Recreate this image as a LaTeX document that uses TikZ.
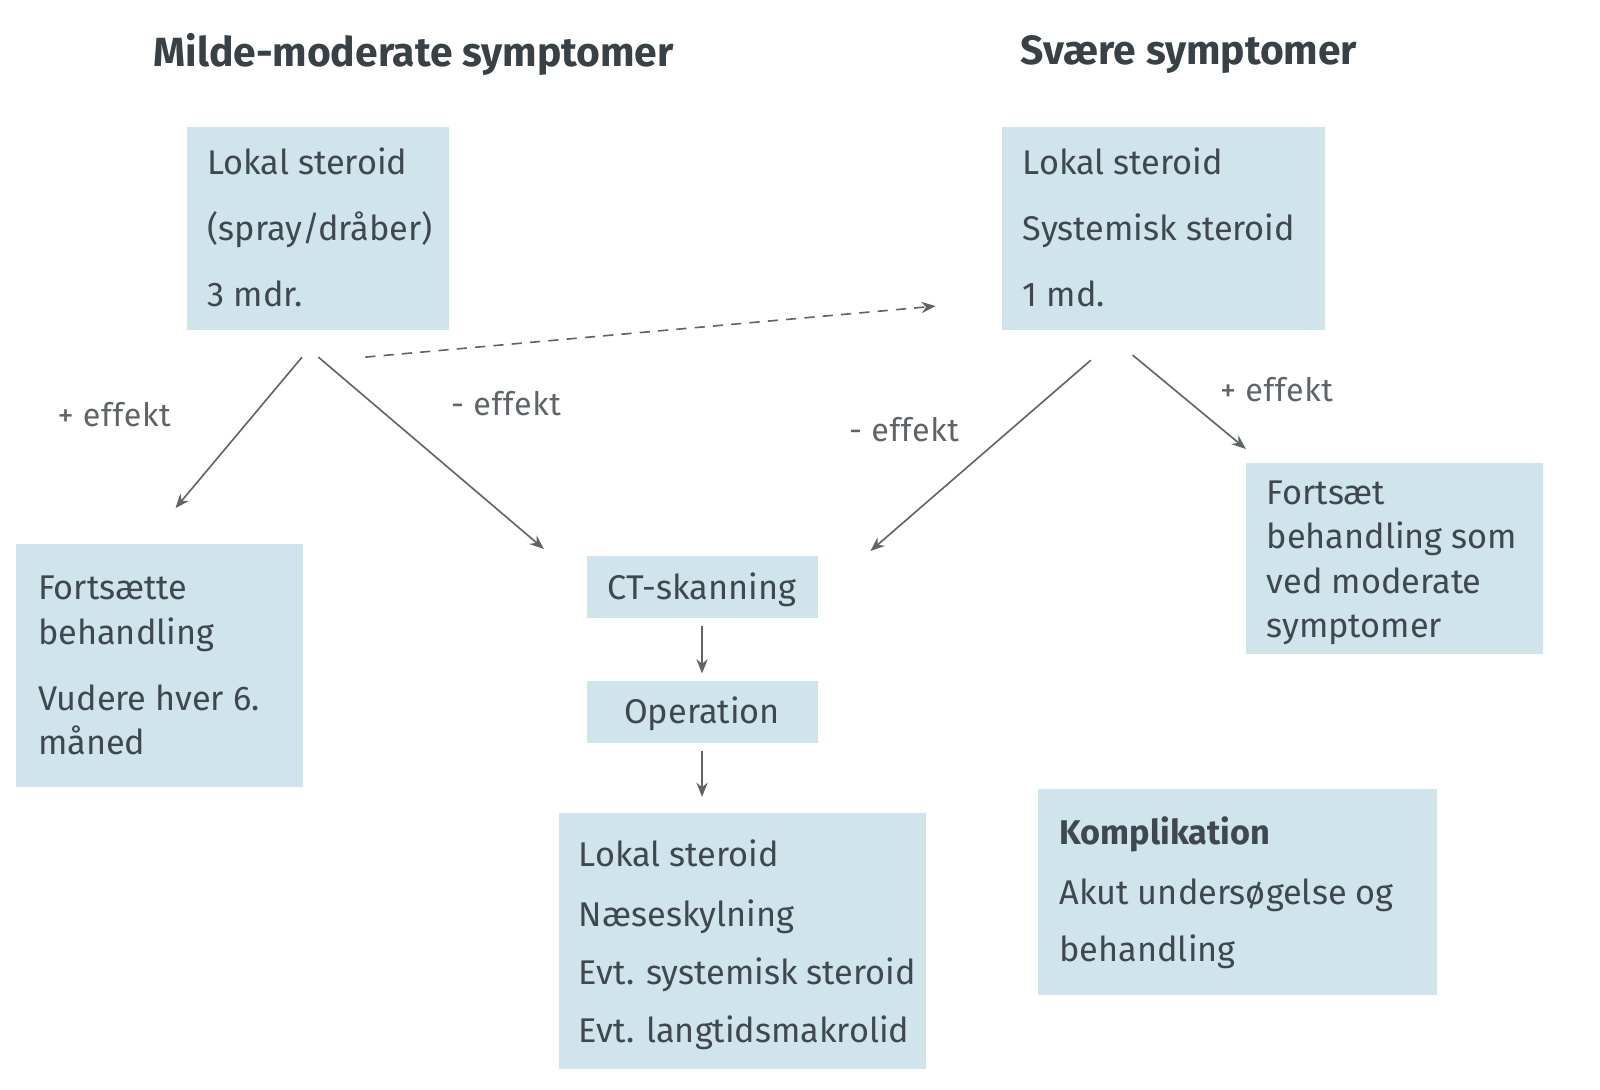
\documentclass[tikz,border=0pt]{standalone}
\usepackage{fontspec}
\setmainfont{Fira Sans}
\usetikzlibrary{arrows.meta}
\definecolor{boxfill}{RGB}{207,228,235}
\definecolor{txt}{RGB}{62,72,78}
\definecolor{arr}{RGB}{95,100,104}
\tikzset{
  box/.style={fill=boxfill, draw=none, inner sep=0pt},
  line/.style={anchor=west, inner sep=0pt, text=txt, font=\fontsize{16.8}{19}\selectfont, text height=0.7em, text depth=0.2em, yshift=-2.8pt},
  cline/.style={line, anchor=center},
  title/.style={anchor=west, inner sep=0pt, text=txt!90!black, font=\fontsize{20}{23}\selectfont\bfseries, yshift=-1.5pt},
  lbl/.style={anchor=center, inner sep=0pt, text=arr, font=\fontsize{15.8}{18}\selectfont\addfontfeatures{LetterSpace=2}},
  conn/.style={draw=arr, line width=0.8pt, -{Stealth[length=7pt,width=5.5pt]}},
  dconn/.style={conn, dashed, dash pattern=on 5pt off 4pt}
}
\newcommand{\mybox}[5]{\node[box, minimum width={(#4-#2)*0.5pt}, minimum height={(#5-#3)*0.5pt}] (#1) at ({(#2+#4)/2},{(#3+#5)/2}) {};}
\begin{document}
\begin{tikzpicture}[x=0.5pt,y=-0.5pt]
\useasboundingbox (0,0) rectangle (1568,1068);
% titles
\node[title] (t1) at (150,50) {Milde-moderate symptomer};
\node[title] (t2) at (1000,50) {Svære symptomer};
% boxes
\mybox{A}{183}{124}{440}{323}
\mybox{B}{982}{124}{1298}{323}
\mybox{C}{16}{533}{297}{771}
\mybox{CT}{575}{545}{802}{606}
\mybox{OP}{575}{667}{802}{728}
\mybox{D}{548}{797}{907}{1048}
\mybox{R}{1221}{454}{1512}{641}
\mybox{K}{1017}{773}{1408}{975}
% box A text
\node[line] (a1) at (203,160) {Lokal steroid};
\node[line] (a2) at (203,225) {(spray/dråber)};
\node[line] (a3) at (203,290) {3 mdr.};
% box B text
\node[line] (b1) at (1002,160) {Lokal steroid};
\node[line] (b2) at (1002,225) {Systemisk steroid};
\node[line] (b3) at (1002,290) {1 md.};
% box C text
\node[line] (c1) at (37,577) {Fortsætte};
\node[line] (c2) at (37,621) {behandling};
\node[line] (c3) at (37,686) {Vudere hver 6.};
\node[line] (c4) at (37,729) {måned};
% CT and operation
\node[cline] (ct) at (688,577) {CT-skanning};
\node[cline] (op) at (688,698) {Operation};
% box D text
\node[line] (d1) at (567,839) {Lokal steroid};
\node[line] (d2) at (567,897) {Næseskylning};
\node[line] (d3) at (567,954) {Evt. systemisk steroid};
\node[line] (d4) at (567,1011) {Evt. langtidsmakrolid};
% box R text
\node[line] (r1) at (1241,484) {Fortsæt};
\node[line] (r2) at (1241,527) {behandling som};
\node[line] (r3) at (1241,571) {ved moderate};
\node[line] (r4) at (1241,614) {symptomer};
% box K text
\node[line, font=\fontsize{16.8}{19}\selectfont\bfseries] (k1) at (1038,817) {Komplikation};
\node[line] (k2) at (1038,876) {Akut undersøgelse og};
\node[line] (k3) at (1038,932) {behandling};
% connector end points
\coordinate (s1) at (296,350);
\coordinate (e1) at (172,498);
\coordinate (s2) at (312,350);
\coordinate (e2) at (533,538);
\coordinate (s3) at (358,350);
\coordinate (e3) at (917,300);
\coordinate (s4) at (1069,353);
\coordinate (e4) at (853,540);
\coordinate (s5) at (1110,348);
\coordinate (e5) at (1221,440);
\coordinate (s6) at (688,613);
\coordinate (e6) at (688,660);
\coordinate (s7) at (688,736);
\coordinate (e7) at (688,781);
% connectors
\draw[conn] (s1) -- (e1);
\draw[conn] (s2) -- (e2);
\draw[dconn] (s3) -- (e3);
\draw[conn] (s4) -- (e4);
\draw[conn] (s5) -- (e5);
\draw[conn] (s6) -- (e6);
\draw[conn] (s7) -- (e7);
% labels
\node[lbl] (l1) at (112,406) {+ effekt};
\node[lbl] (l2) at (496,396) {- effekt};
\node[lbl] (l3) at (886,421) {- effekt};
\node[lbl] (l4) at (1251,382) {+ effekt};
\end{tikzpicture}
\end{document}
